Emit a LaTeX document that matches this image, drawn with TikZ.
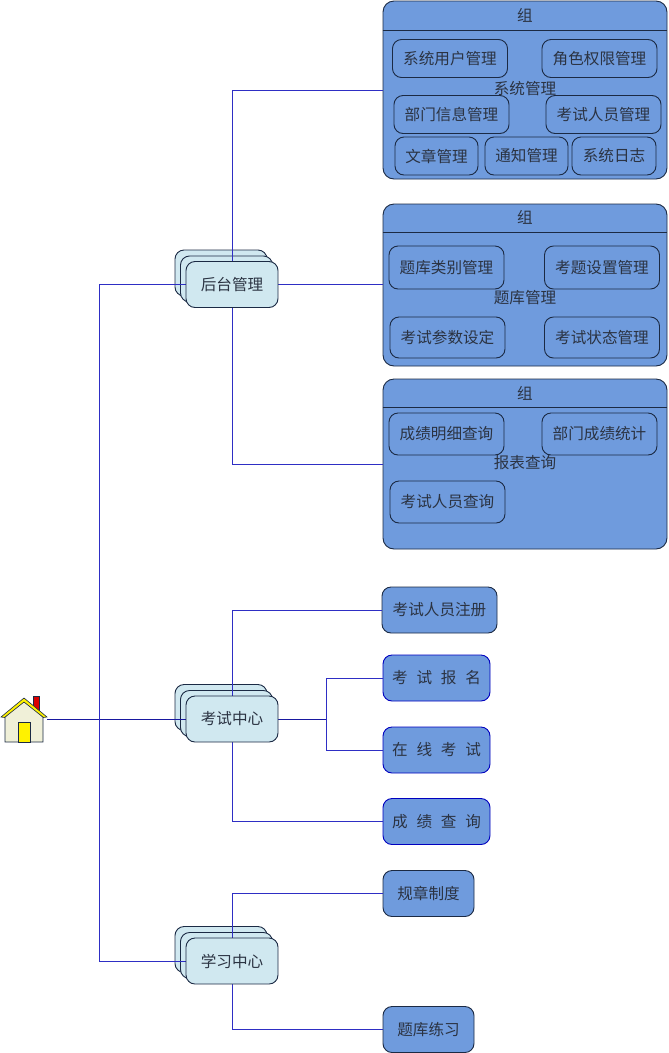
\documentclass[tikz,border=0pt]{standalone}
\usepackage{fontspec}
\usepackage{xcolor}
\setmainfont{Noto Sans CJK SC}
\definecolor{grpblue}{HTML}{6F9BDD}
\definecolor{palecyan}{HTML}{D0E8F0}
\definecolor{edgedark}{HTML}{1B2A44}
\definecolor{linkblue}{HTML}{2E2EC4}
\definecolor{linknavy}{HTML}{1818A0}
\definecolor{inktext}{HTML}{2B3342}
\definecolor{wallcream}{HTML}{F0F0D8}
\pgfdeclarelayer{front}
\pgfsetlayers{main,front}
\newcommand{\gapwords}{\spaceskip=8.8pt\relax}
\tikzset{
  box/.style={draw=edgedark,rounded corners=9pt,inner sep=0pt,text=inktext,font=\fontsize{15.6}{18}\selectfont,line width=0.9pt},
  grp/.style={box,fill=grpblue,minimum width=284pt,rounded corners=11pt},
  item/.style={box,minimum width=115pt,minimum height=38pt},
  leaf/.style={box,fill=grpblue,minimum height=46pt},
  wide/.style={leaf,draw=blue!75!black,minimum width=107pt,font=\fontsize{15.6}{18}\selectfont\gapwords},
  stackbox/.style={box,fill=palecyan,minimum width=92pt,minimum height=46pt},
  txt/.style={text=inktext,inner sep=0pt,font=\fontsize{15.6}{18}\selectfont},
  link/.style={draw=linkblue,line width=1pt},
  linkdark/.style={draw=linknavy,line width=1pt}
}
\begin{document}
\begin{tikzpicture}[x=1pt,y=-1pt]
  \useasboundingbox (0,0) rectangle (669,1053);
  \node[grp,minimum height=178pt] (grpa) at (525,90) {}; \draw[draw=edgedark,line width=0.9pt] ([yshift=-30pt]grpa.north west) -- ([yshift=-30pt]grpa.north east);
  \node[txt] (grpatop) at (525,15) {组}; \node[txt] (grpaname) at (525,89) {系统管理};
  \node[item] (sysuser) at (450,58.5) {系统用户管理}; \node[item] (sysrole) at (599.5,58.5) {角色权限管理};
  \node[item] (sysdept) at (451.5,114.5) {部门信息管理}; \node[item] (sysexam) at (603.5,114.5) {考试人员管理};
  \node[item,minimum width=83pt] (sysnews) at (436.5,156) {文章管理}; \node[item,minimum width=83pt] (sysnote) at (526.5,156) {通知管理}; \node[item,minimum width=84pt] (syslog) at (614,156) {系统日志};

  \node[grp,minimum height=162pt] (grpb) at (525,285) {}; \draw[draw=edgedark,line width=0.9pt] ([yshift=-29pt]grpb.north west) -- ([yshift=-29pt]grpb.north east);
  \node[txt] (grpbtop) at (525,217) {组}; \node[txt] (grpbname) at (525,298) {题库管理};
  \node[item,minimum height=43pt] (bankcat) at (446.5,267.5) {题库类别管理}; \node[item,minimum height=43pt] (bankset) at (602,267.5) {考题设置管理};
  \node[item,minimum height=41pt] (bankpar) at (447.5,337.5) {考试参数设定}; \node[item,minimum height=41pt] (bankstat) at (602,337.5) {考试状态管理};

  \node[grp,minimum height=170pt] (grpc) at (525,464) {}; \draw[draw=edgedark,line width=0.9pt] ([yshift=-29pt]grpc.north west) -- ([yshift=-29pt]grpc.north east);
  \node[txt] (grpctop) at (525,393) {组}; \node[txt] (grpcname) at (525,463) {报表查询};
  \node[item,minimum height=42pt] (repdet) at (446.5,434) {成绩明细查询}; \node[item,minimum height=42pt] (repdept) at (599.5,434) {部门成绩统计};
  \node[item,minimum height=42pt] (repuser) at (447.5,502) {考试人员查询};

  \node[leaf,minimum width=115pt] (regist) at (439.5,610) {考试人员注册};
  \node[wide] (signup) at (436.5,678) {考 试 报 名};
  \node[wide] (online) at (436.5,750) {在 线 考 试};
  \node[wide] (score) at (436.5,821.5) {成 绩 查 询};
  \node[leaf,minimum width=91pt] (rules) at (428.5,893.5) {规章制度};
  \node[leaf,minimum width=91pt] (drill) at (428.5,1029.5) {题库练习};

  \node[stackbox] (adminc) at (221,273) {}; \node[stackbox] (adminb) at (226.5,279) {};
  \node[stackbox] (examc) at (221,707.5) {}; \node[stackbox] (examb) at (226.5,713.5) {};
  \node[stackbox] (studyc) at (221,949.5) {}; \node[stackbox] (studyb) at (226.5,955.5) {};
  \begin{pgfonlayer}{front}
    \node[stackbox] (admin) at (232,284.5) {后台管理};
    \node[stackbox] (exam) at (232,719) {考试中心};
    \node[stackbox] (study) at (232,961) {学习中心};
  \end{pgfonlayer}

  \coordinate (home) at (47,719); \coordinate (trunk) at (99,719); \coordinate (fork) at (326,719);
  \draw[linkdark] (home) -- (exam.west); \draw[link] (trunk) |- (admin.west); \draw[link] (trunk) |- (study.west);
  \draw[link] (admin.north) |- (grpa.west); \draw[link] (admin.east) -- (admin.east -| grpb.west); \draw[link] (admin.south) |- (grpc.west);
  \draw[link] (exam.north) |- (regist.west); \draw[link] (exam.south) |- (score.west);
  \draw[linkdark] (exam.east) -- (fork); \draw[link] (fork) |- (signup.west); \draw[link] (fork) |- (online.west);
  \draw[link] (study.north) |- (rules.west); \draw[link] (study.south) |- (drill.west);

  \fill[red!85!black,draw=edgedark,line width=0.5pt] (33.5,696.5) rectangle (39.5,712);
  \draw[fill=wallcream,draw=edgedark,line width=0.8pt] (5,717) -- (24,699) -- (43,717) -- (43,742) -- (5,742) -- cycle;
  \draw[fill=yellow,draw=edgedark,line width=0.8pt] (18.5,722) rectangle (30,742);
  \draw[fill=yellow,draw=edgedark,line width=0.6pt] (1,717) -- (24,698) -- (47,717) -- (43.5,717.5) -- (24,702) -- (4.5,717.5) -- cycle;
\end{tikzpicture}
\end{document}
